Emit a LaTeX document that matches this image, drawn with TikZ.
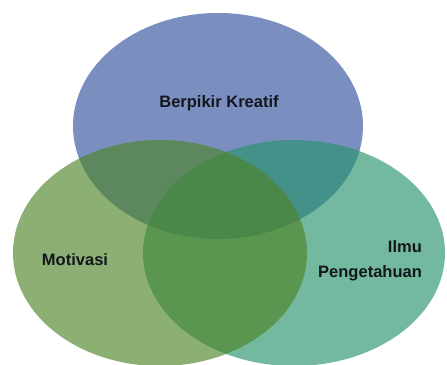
\documentclass[tikz,border=0pt]{standalone}
\usepackage{fontspec}
\setmainfont{Liberation Sans}
\tikzset{font=\fontsize{9.4}{14}\selectfont\bfseries}
\definecolor{kreatifblue}{RGB}{122,142,192}
\definecolor{ilmuteal}{RGB}{40,148,109}
\definecolor{motivgreen}{RGB}{78,132,40}
\definecolor{labelink}{RGB}{20,22,30}

\begin{document}
\begin{tikzpicture}[x=0.02cm,y=-0.02cm,venntext/.style={text=labelink,inner sep=1pt}]
      \useasboundingbox (0,0) rectangle (447,365);
      \clip (0,0) rectangle (447,365);
      \fill[kreatifblue] (218,126) ellipse (145 and 113);
      \fill[ilmuteal,opacity=.65] (294,253) ellipse (151 and 113);
      \fill[motivgreen,opacity=.65] (160,253) ellipse (147 and 113);

      \node[venntext] (kreatif) at (219,103) {Berpikir Kreatif};
      \node[venntext] (motivasi) at (75,260) {Motivasi};
      \node[venntext,align=right,anchor=east] (ilmu) at (424,261)
        {Ilmu\\Pengetahuan};
    \end{tikzpicture}
\end{document}
